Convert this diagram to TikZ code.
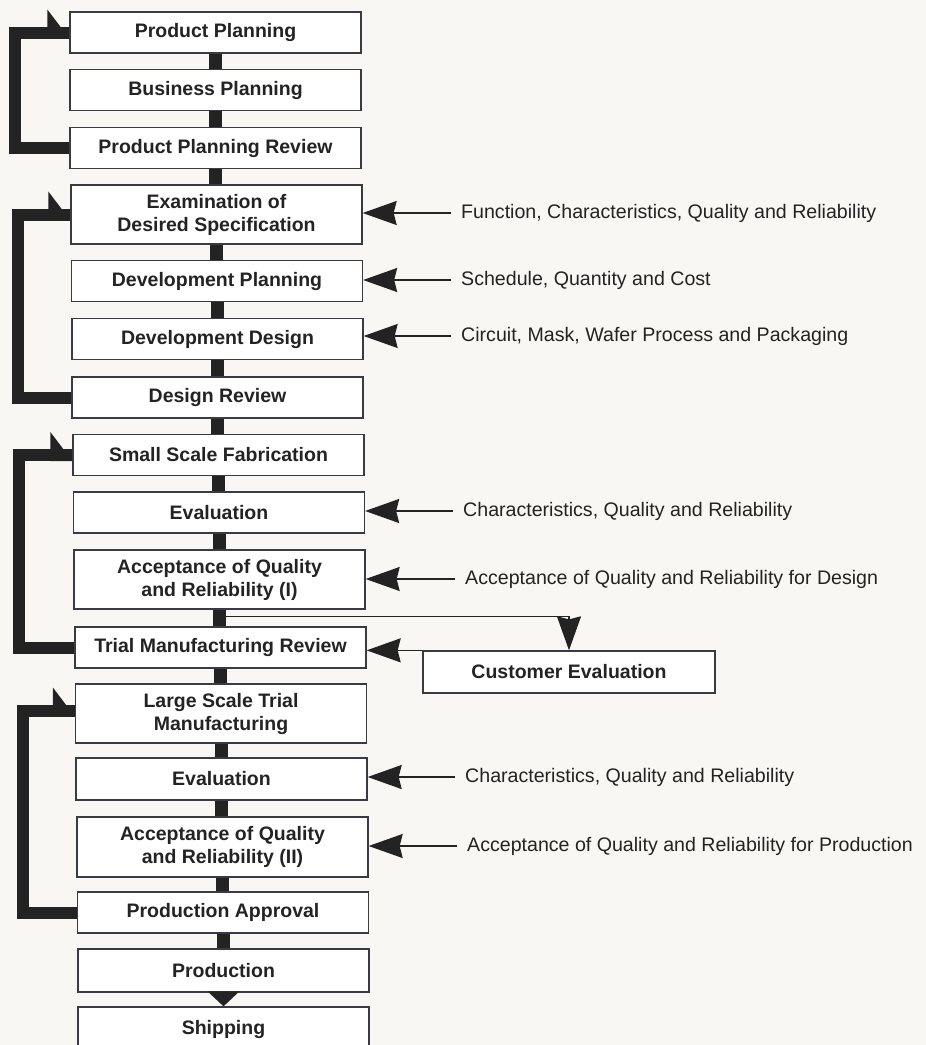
\documentclass[tikz,border=0pt]{standalone}
\usepackage{fontspec}
\setmainfont{Liberation Sans}
\usetikzlibrary{arrows.meta,backgrounds,calc}
\definecolor{paper}{HTML}{F8F7F3}
\definecolor{ink}{HTML}{232323}
\definecolor{boxline}{HTML}{3A3A44}
\begin{document}
\begin{tikzpicture}[x=1pt,y=-1pt,
  box/.style={draw=boxline, line width=1.3pt, fill=white, minimum width=291pt,
    minimum height=41pt, inner sep=0pt, align=center, text=ink,
    font=\bfseries\fontsize{19.5}{23}\selectfont},
  tallbox/.style={box, minimum height=59pt},
  note/.style={anchor=west, inner sep=0pt, text=ink, font=\fontsize{19.6}{23}\selectfont},
  spine/.style={line width=13pt, draw=ink},
  fb/.style={line width=12pt, draw=ink, line join=miter},
  barb/.style={fill=ink},
  feed/.style={line width=1.5pt, draw=ink, -{Stealth[length=34pt 0,width=24pt 0,inset=3pt 0]}},
]
\useasboundingbox (0,0) rectangle (926,1045);

% boxes
\node[box] (pp)   at (215.5,32.5)  {Product Planning};
\node[box] (bp)   at (215.5,90)    {Business Planning};
\node[box] (ppr)  at (215.5,148)   {Product Planning Review};
\node[tallbox] (eds) at (216.5,214.5) {Examination of\\Desired Specification};
\node[box] (dp)   at (217,281)     {Development Planning};
\node[box] (dd)   at (217.5,339)   {Development Design};
\node[box] (dr)   at (217.5,397.5) {Design Review};
\node[box] (ssf)  at (218.5,455)   {Small Scale Fabrication};
\node[box] (ev1)  at (219,512.5)   {Evaluation};
\node[tallbox] (aq1) at (219.5,579.5) {Acceptance of Quality\\and Reliability (I)};
\node[box] (tmr)  at (220.5,647.5) {Trial Manufacturing Review};
\node[tallbox] (lst) at (221,713.5) {Large Scale Trial\\Manufacturing};
\node[box, minimum height=42pt] (ev2) at (221.5,779) {Evaluation};
\node[tallbox, minimum height=60pt] (aq2) at (222.5,847) {Acceptance of Quality\\and Reliability (II)};
\node[box] (pa)   at (223,912.5)   {Production Approval};
\node[box, minimum height=43pt] (prod) at (223.5,970.5) {Production};
\node[box, minimum height=44pt] (ship) at (223.5,1029) {Shipping};
\node[box, minimum width=292pt, minimum height=42pt] (ce) at (569,672) {Customer Evaluation};

% spine behind boxes
\begin{pgfonlayer}{background}
\fill[paper] (0,0) rectangle (926,1045);
\foreach \a/\b in {pp/bp,bp/ppr,ppr/eds,eds/dp,dp/dd,dd/dr,dr/ssf,ssf/ev1,ev1/aq1,aq1/tmr,tmr/lst,lst/ev2,ev2/aq2,aq2/pa,pa/prod}
  \draw[spine] (\a.south) -- (\a.south |- \b.north);
\end{pgfonlayer}
\draw[line width=13pt, draw=ink, -{Triangle[length=15pt,width=31pt]}] (prod.south) -- (prod.south |- ship.north);

% feedback loops on the left
\draw[fb] (ppr.west) -- ++(-54,0) |- (pp.west);
\fill[barb] ($(pp.west)+(0,6)$) -- ++(-22,0) -- ++(0,-29) -- cycle;
\draw[fb] (dr.west) -- ++(-53,0) |- (eds.west);
\fill[barb] ($(eds.west)+(0,6)$) -- ++(-22,0) -- ++(0,-29) -- cycle;
\draw[fb] (tmr.west) -- ++(-55,0) |- (ssf.west);
\fill[barb] ($(ssf.west)+(0,6)$) -- ++(-22,0) -- ++(0,-29) -- cycle;
\draw[fb] (pa.west) -- ++(-54,0) |- ($(lst.west)+(0,-3)$);
\fill[barb] ($(lst.west)+(0,3)$) -- ++(-22,0) -- ++(0,-29) -- cycle;

% inputs on the right
\node[note] (n1) at (461,213) {Function, Characteristics, Quality and Reliability};
\node[note] (n2) at (461,280) {Schedule, Quantity and Cost};
\node[note] (n3) at (461,336) {Circuit, Mask, Wafer Process and Packaging};
\node[note] (n4) at (463,511) {Characteristics, Quality and Reliability};
\node[note] (n5) at (465,579) {Acceptance of Quality and Reliability for Design};
\node[note] (n6) at (465,777) {Characteristics, Quality and Reliability};
\node[note] (n7) at (467,846) {Acceptance of Quality and Reliability for Production};
\draw[feed] ([xshift=-10pt]n1.west) -- (n1.west -| eds.east);
\draw[feed] ([xshift=-10pt]n2.west) -- (n2.west -| dp.east);
\draw[feed] ([xshift=-10pt]n3.west) -- (n3.west -| dd.east);
\draw[feed] ([xshift=-10pt]n4.west) -- (n4.west -| ev1.east);
\draw[feed] ([xshift=-10pt]n5.west) -- (n5.west -| aq1.east);
\draw[feed] ([xshift=-10pt]n6.west) -- (n6.west -| ev2.east);
\draw[feed] ([xshift=-10pt]n7.west) -- (n7.west -| aq2.east);

% customer evaluation
\coordinate (br) at ($(aq1.south)!0.4!(tmr.north)$);
\draw[feed] (br) -| (ce.north);
\draw[feed] (ce.north west) -- (ce.north west -| tmr.east);
\end{tikzpicture}
\end{document}
